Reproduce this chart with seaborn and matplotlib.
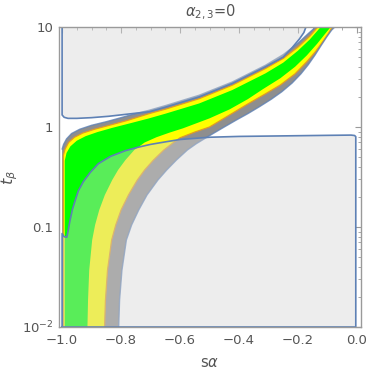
import matplotlib
matplotlib.use("Agg")
import matplotlib.pyplot as plt
import matplotlib.ticker as mticker
import seaborn as sns

# ---------------- data ----------------
# band: outer (gray, blue outline) top/left edge
BT_x = [-1.0, -1.0, -0.995, -0.985, -0.968, -0.94, -0.90, -0.85, -0.80, -0.76, -0.705, -0.649, -0.535, -0.423, -0.31, -0.25, -0.20, -0.165, -0.14]
BT_t = [0.01, 0.60, 0.67, 0.76, 0.86, 0.95, 1.04, 1.13, 1.24, 1.34, 1.47, 1.64, 2.08, 2.82, 4.15, 5.3, 6.9, 8.6, 10]
# band: yellow (orange outline) top/left edge
YT_x = [-0.996, -0.996, -0.99, -0.978, -0.958, -0.93, -0.89, -0.84, -0.78, -0.705, -0.649, -0.535, -0.423, -0.31, -0.25, -0.20, -0.16, -0.133]
YT_t = [0.01, 0.52, 0.60, 0.70, 0.79, 0.87, 0.95, 1.04, 1.16, 1.36, 1.51, 1.92, 2.62, 3.85, 4.85, 6.3, 8.1, 10]
# band: green top/left edge
GT_x = [-0.991, -0.991, -0.985, -0.972, -0.95, -0.92, -0.88, -0.83, -0.774, -0.705, -0.649, -0.535, -0.423, -0.31, -0.25, -0.20, -0.16, -0.123]
GT_t = [0.01, 0.46, 0.55, 0.64, 0.73, 0.81, 0.89, 0.98, 1.08, 1.22, 1.36, 1.72, 2.34, 3.44, 4.4, 5.8, 7.5, 10]
# band: green bottom/right edge
GB_x = [-0.914, -0.912, -0.908, -0.898, -0.888, -0.874, -0.855, -0.83, -0.81, -0.785, -0.755, -0.72, -0.68, -0.635, -0.59, -0.50, -0.432, -0.37, -0.318, -0.26, -0.21, -0.17, -0.135, -0.11, -0.089]
GB_t = [0.01, 0.0186, 0.037, 0.074, 0.105, 0.148, 0.209, 0.295, 0.372, 0.468, 0.589, 0.70, 0.79, 0.88, 0.97, 1.22, 1.5, 1.9, 2.4, 3.07, 4.0, 5.2, 6.8, 8.4, 10]
# band: yellow bottom/right edge
YB_x = [-0.856, -0.853, -0.846, -0.832, -0.818, -0.80, -0.775, -0.745, -0.72, -0.69, -0.655, -0.625, -0.60, -0.55, -0.50, -0.432, -0.37, -0.31, -0.26, -0.21, -0.17, -0.14, -0.115, -0.097, -0.084]
YB_t = [0.01, 0.0186, 0.037, 0.074, 0.105, 0.148, 0.209, 0.295, 0.372, 0.468, 0.589, 0.69, 0.78, 0.89, 1.0, 1.32, 1.7, 2.15, 2.63, 3.4, 4.5, 5.7, 7.2, 8.6, 10]
# band: outer bottom/right edge
BB_x = [-0.808, -0.805, -0.797, -0.782, -0.764, -0.74, -0.712, -0.675, -0.645, -0.612, -0.575, -0.545, -0.515, -0.485, -0.45, -0.41, -0.37, -0.33, -0.29, -0.255, -0.22, -0.19, -0.165, -0.143, -0.122, -0.102, -0.086, -0.075]
BB_t = [0.01, 0.0186, 0.037, 0.074, 0.105, 0.148, 0.209, 0.295, 0.372, 0.468, 0.589, 0.68, 0.77, 0.87, 1.0, 1.17, 1.36, 1.6, 1.9, 2.25, 2.75, 3.4, 4.2, 5.2, 6.5, 8.0, 9.3, 10]
# lower excluded region boundary
L_x = [-1.0, -1.0, -0.993, -0.984, -0.98, -0.974, -0.965, -0.957, -0.945, -0.928, -0.905, -0.877, -0.835, -0.785, -0.74, -0.70, -0.65, -0.60, -0.5, -0.4, -0.25, -0.10, -0.02, -0.008, -0.004, -0.004, -1.0]
L_t = [0.01, 0.086, 0.080, 0.079, 0.09, 0.113, 0.15, 0.179, 0.23, 0.284, 0.35, 0.43, 0.51, 0.58, 0.63, 0.67, 0.71, 0.75, 0.79, 0.805, 0.815, 0.825, 0.83, 0.822, 0.80, 0.01, 0.01]
# upper excluded region boundary
U_x = [-1.0, -1.0, -0.993, -0.98, -0.95, -0.90, -0.842, -0.763, -0.705, -0.649, -0.535, -0.423, -0.31, -0.25, -0.22, -0.195, -0.18, -0.173]
U_t = [10, 1.32, 1.25, 1.22, 1.22, 1.24, 1.28, 1.36, 1.42, 1.58, 2.0, 2.72, 4.0, 5.0, 6.2, 7.6, 8.8, 10]

x_ticks = [-1.0, -0.8, -0.6, -0.4, -0.2, 0.0]
x_tick_labels = ["\u22121.0", "\u22120.8", "\u22120.6", "\u22120.4", "\u22120.2", "0.0"]
y_ticks = [0.01, 0.1, 1, 10]
y_tick_labels = [r"$10^{-2}$", "0.1", "1", "10"]
title = r"$\alpha_{2,3}$=0"

# ---------------- styling ----------------
sns.set_style("white")
plt.rcParams["font.family"] = ["DejaVu Sans"]
plt.rcParams["mathtext.fontset"] = "dejavusans"

BLUE = "#5E81B5"
ORANGE = "#E19C24"
GRAY = "#8E8E8E"
YELLOW = "#FFFF00"
GREEN = "#00FF00"
OVER = "#D6D6D6"
TXT = "#555555"
FRAME = "#9A9A9A"

fig = plt.figure(figsize=(3.67, 3.74), dpi=100)
ax = fig.add_axes([59 / 367, 1 - 327 / 374, 302 / 367, 300 / 374])
ax.set_yscale("log")


def band(x1, t1, x2, t2, color):
    xs = list(x1) + list(x2)[::-1]
    ts = list(t1) + list(t2)[::-1]
    ax.fill(xs, ts, color=color, lw=0, zorder=1)


def line(xs, ts, color, lw, z=3, alpha=1.0):
    sns.lineplot(x=xs, y=ts, sort=False, estimator=None, color=color,
                 linewidth=lw, ax=ax, zorder=z, alpha=alpha, legend=False)


band(BT_x, BT_t, BB_x, BB_t, GRAY)
band(YT_x, YT_t, YB_x, YB_t, YELLOW)
band(GT_x, GT_t, GB_x, GB_t, GREEN)
line(YT_x, YT_t, ORANGE, 0.9)
line(YB_x, YB_t, ORANGE, 0.9)
line(BT_x[1:], BT_t[1:], BLUE, 1.0, alpha=0.8)
line(BB_x, BB_t, BLUE, 1.0, alpha=0.8)

# excluded regions (semi-transparent light gray)
ax.fill(L_x, L_t, color=OVER, alpha=0.42, lw=0, zorder=4)
ax.fill(U_x, U_t, color=OVER, alpha=0.42, lw=0, zorder=4)
line(L_x, L_t, BLUE, 1.2, z=5)
line(U_x, U_t, BLUE, 1.2, z=5)

ax.set_xlim(-1.0105, 0.0137)
ax.set_ylim(0.01, 10)

ax.set_xticks(x_ticks)
ax.set_xticklabels(x_tick_labels)
ax.xaxis.set_minor_locator(mticker.MultipleLocator(0.05))
ax.set_yticks(y_ticks)
ax.set_yticklabels(y_tick_labels)
ax.yaxis.set_minor_locator(mticker.LogLocator(base=10, subs=(2, 3, 4, 5, 6, 7, 8, 9)))
ax.yaxis.set_minor_formatter(mticker.NullFormatter())

ax.tick_params(which="both", direction="in", top=True, right=True,
               colors=FRAME, labelcolor=TXT, labelsize=9.5)
ax.tick_params(which="major", length=4, width=0.8)
ax.tick_params(which="minor", length=2, width=0.6)
ax.tick_params(axis="x", pad=5)
ax.tick_params(axis="y", pad=4)
for s in ax.spines.values():
    s.set_color(FRAME)
    s.set_linewidth(1.0)
    s.set_zorder(6)

ax.set_title(title, fontsize=10.5, color=TXT, pad=8)
ax.set_xlabel(r"s$\alpha$", fontsize=10.5, color=TXT)
ax.set_ylabel(r"$t_\beta$", fontsize=11.5, color=TXT)
ax.xaxis.set_label_coords(0.5, -0.093)
ax.yaxis.set_label_coords(-0.128, 0.5)

fig.savefig("out.png", dpi=100)
